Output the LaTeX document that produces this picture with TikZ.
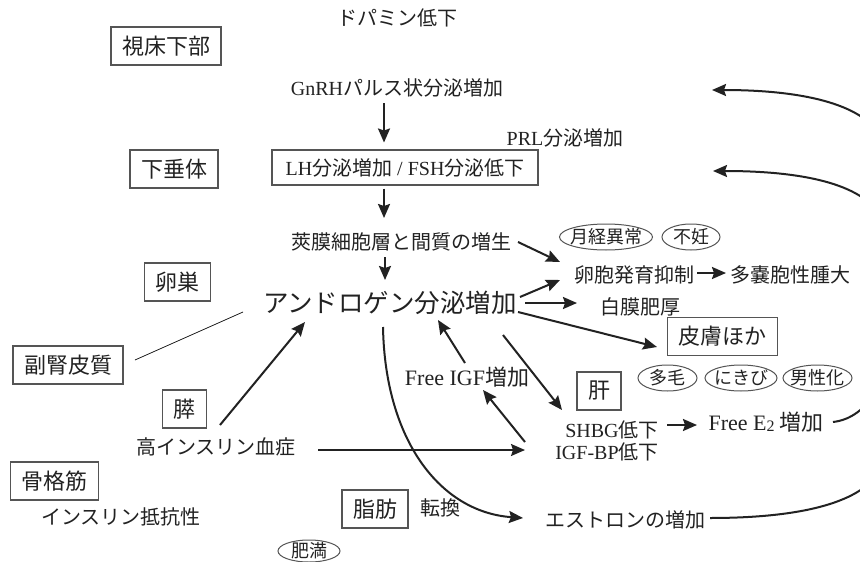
\documentclass[tikz,border=0pt]{standalone}
\usepackage{fontspec}
\setmainfont{Liberation Serif}
\newfontfamily\jpf{Noto Sans CJK JP}
\usetikzlibrary{arrows.meta,shapes.geometric,calc}
\definecolor{ink}{HTML}{222222}
\definecolor{boxc}{HTML}{555555}
\tikzset{
  txt/.style={font=\jpf\fontsize{20}{23}\selectfont, text=ink, inner sep=0pt},
  bigtxt/.style={font=\jpf\fontsize{25.5}{28}\selectfont, text=ink, inner sep=0pt},
  boxl/.style={draw=boxc, line width=1.1pt, font=\jpf\fontsize{22}{25}\selectfont, text=ink, inner xsep=11pt, minimum height=38pt},
  oval/.style={ellipse, draw=boxc, line width=1pt, font=\jpf\fontsize{18}{20}\selectfont, text=ink, inner xsep=-5pt, inner ysep=-3pt, minimum height=26pt},
  arr/.style={-{Stealth[length=14pt,width=12pt,inset=2pt]}, line width=2pt, draw=ink},
  plainl/.style={line width=2pt, draw=ink},
  thinl/.style={line width=0.8pt, draw=ink},
}
\begin{document}
\begin{tikzpicture}[x=1pt,y=-1pt]
\useasboundingbox (0,0) rectangle (860,562);
\fill[white] (0,0) rectangle (860,562);
\clip (0,0) rectangle (860,562);

% organ boxes
\node[boxl] (hyp) at (166,46) {視床下部};
\node[boxl] (pit) at (174,169) {下垂体};
\node[boxl] (ova) at (177.5,282) {卵巣};
\node[boxl] (adr) at (68,365) {副腎皮質};
\node[boxl] (pan) at (184.5,409) {膵};
\node[boxl] (mus) at (54.5,481) {骨格筋};
\node[boxl] (fat) at (375,509) {脂肪};
\node[boxl] (liv) at (599,391) {肝};
\node[boxl] (skin) at (722.5,336.5) {皮膚ほか};

% main texts
\node[txt] (dop) at (397,18) {ドパミン低下};
\node[txt] (gnrh) at (397,88) {{\rmfamily GnRH}パルス状分泌増加};
\node[txt] (prl) at (565,138) {{\rmfamily PRL}分泌増加};
\node[draw=boxc, line width=1.1pt, font=\jpf\fontsize{20}{23}\selectfont, text=ink, minimum width=266pt, minimum height=35pt, inner sep=0pt] (lh) at (405,167.5) {{\rmfamily LH}分泌増加{\rmfamily\ / FSH}分泌低下};
\node[txt] (theca) at (401,242) {莢膜細胞層と間質の増生};
\node[bigtxt] (andro) at (390,303) {アンドロゲン分泌増加};
\node[txt] (foll) at (634,275) {卵胞発育抑制};
\node[txt] (pcos) at (790,275) {多嚢胞性腫大};
\node[txt] (tuni) at (640,307) {白膜肥厚};
\node[txt, font=\jpf\fontsize{22}{25}\selectfont] (figf) at (467,377) {{\rmfamily Free IGF}増加};
\node[txt, font=\jpf\fontsize{20}{23}\selectfont] (shbg) at (612,430) {{\rmfamily SHBG}低下};
\node[txt, font=\jpf\fontsize{20}{23}\selectfont] (igfbp) at (607,452) {{\rmfamily IGF-BP}低下};
\node[txt, font=\jpf\fontsize{22}{25}\selectfont] (fe2) at (766,422) {{\rmfamily Free E\raisebox{-0.15ex}{\fontsize{16}{16}\selectfont 2}} 増加};
\node[txt] (hyper) at (216,447) {高インスリン血症};
\node[txt] (ires) at (121,517) {インスリン抵抗性};
\node[txt] (conv) at (440,508) {転換};
\node[txt] (estr) at (625,520) {エストロンの増加};

% ovals
\node[oval, minimum width=93pt] (mens) at (606,237) {月経異常};
\node[oval, minimum width=58pt] (infe) at (691,237) {不妊};
\node[oval, minimum width=59pt] (hirs) at (667.5,378) {多毛};
\node[oval, minimum width=72pt] (acne) at (741,378) {にきび};
\node[oval, minimum width=69pt] (viri) at (817.5,378) {男性化};
\node[oval, minimum width=62pt, minimum height=22pt] (obes) at (309,551) {肥満};

% free ends of feedback curves
\coordinate (fb1) at (712,90);
\coordinate (fb2) at (713,171);
\coordinate (sp1) at (880,135);
\coordinate (sp2) at (880,215);
\coordinate (sp3) at (880,385);
\coordinate (sp4) at (880,470);

% vertical cascade
\draw[arr] ($(gnrh)+(-13,15)$) -- ($(lh)+(-21,-25)$);
\draw[arr] ($(lh)+(-21,21)$) -- ($(theca)+(-17,-24)$);
\draw[arr] ($(theca)+(-16,15)$) -- ($(andro)+(-5,-23)$);

% to the right
\draw[arr] ($(theca)+(117,0)$) -- ($(foll)+(-74,-13)$);
\draw[arr] ($(andro)+(130,-6)$) -- ($(foll)+(-74,5)$);
\draw[arr] ($(andro)+(135,0)$) -- ($(tuni)+(-63,-4)$);
\draw[arr] ($(andro)+(128,9)$) -- ($(skin)+(-65.5,10.5)$);
\draw[arr] ($(foll)+(63,-2)$) -- ($(pcos)+(-64,-2)$);

% liver / IGF
\draw[arr] ($(andro)+(113,32)$) -- ($(shbg)+(-50,-20)$);
\draw[arr] ($(figf)+(-2,-14)$) -- ($(andro)+(48,17)$);
\draw[arr] ($(igfbp)+(-82,-10)$) -- ($(figf)+(16,13)$);
\draw[arr] ($(shbg)+(55,-5)$) -- ($(fe2)+(-69,3)$);

% insulin
\draw[arr] ($(hyper)+(4,-22)$) -- ($(andro)+(-85,19)$);
\draw[arr, line width=1.6pt] ($(hyper)+(102,3)$) -- ($(igfbp)+(-82,-2)$);
\draw[thinl] ($(adr)+(67,-5)$) -- ($(andro)+(-147,9)$);

% conversion to estrone
\draw[arr] ($(andro)+(-7,24)$) .. controls (385,440) and (440,512) .. ($(estr)+(-102,-2)$);

% feedback curves (spine beyond the right edge)
\draw[plainl] (sp1) -- (sp4);
\draw[arr] (sp1) .. controls (858,100) and (790,90) .. (fb1);
\draw[arr] (sp2) .. controls (858,180) and (790,171) .. (fb2);
\draw[plainl] ($(fe2)+(67,0)$) .. controls (850,420) and (866,410) .. (sp3);
\draw[plainl] ($(estr)+(85,-2)$) .. controls (790,518) and (860,506) .. (sp4);
\end{tikzpicture}
\end{document}
